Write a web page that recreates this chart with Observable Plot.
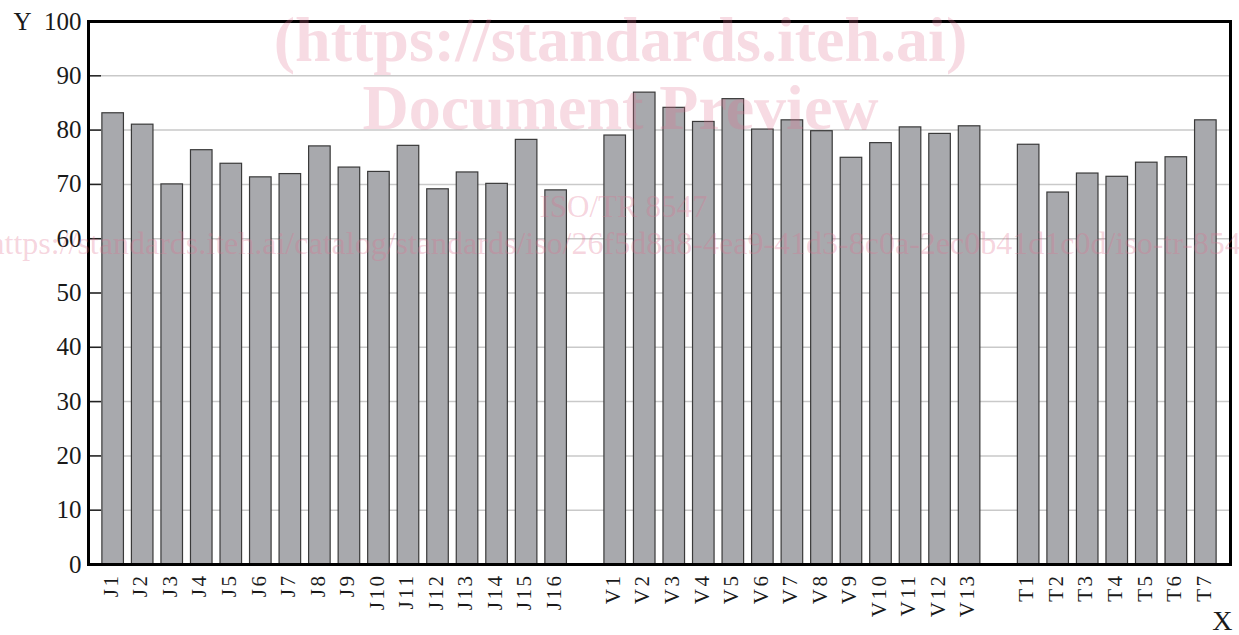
<!DOCTYPE html>
<html>
<head>
<meta charset="utf-8">
<script src="https://cdn.jsdelivr.net/npm/d3@7"></script>
<script src="https://cdn.jsdelivr.net/npm/@observablehq/plot@0.6"></script>
<style>
  html, body { margin: 0; padding: 0; background: #fff; }
  #chart svg { display: block; }
  #chart g[aria-label="x-axis tick label"] text { letter-spacing: 2.5px; }
</style>
</head>
<body>
<div id="chart"></div>
<script>
// ---- data ----
const jLabels = ["J1","J2","J3","J4","J5","J6","J7","J8","J9","J10","J11","J12","J13","J14","J15","J16"];
const jValues = [83.1, 81.0, 70.0, 76.3, 73.8, 71.3, 71.9, 77.0, 73.1, 72.3, 77.1, 69.1, 72.2, 70.1, 78.2, 68.9];
const vLabels = ["V1","V2","V3","V4","V5","V6","V7","V8","V9","V10","V11","V12","V13"];
const vValues = [79.0, 86.9, 84.1, 81.5, 85.7, 80.1, 81.8, 79.8, 74.9, 77.6, 80.5, 79.3, 80.7];
const tLabels = ["T1","T2","T3","T4","T5","T6","T7"];
const tValues = [77.3, 68.5, 72.0, 71.4, 74.0, 75.0, 81.8];
const gapKeys = ["gap1", "gap2"];
const yTicks = [0, 10, 20, 30, 40, 50, 60, 70, 80, 90, 100];
const watermark = [
  "(https://standards.iteh.ai)",
  "Document Preview",
  "ISO/TR 8547",
  "https://standards.iteh.ai/catalog/standards/iso/26f5d8a8-4ea9-41d3-8c0a-2ec0b41d1c0d/iso-tr-8547-2023"
];

// ---- build table ----
const rows = [
  ...jLabels.map((k, i) => ({key: k, value: jValues[i]})),
  ...vLabels.map((k, i) => ({key: k, value: vValues[i]})),
  ...tLabels.map((k, i) => ({key: k, value: tValues[i]}))
];
const domain = [...jLabels, gapKeys[0], ...vLabels, gapKeys[1], ...tLabels];

const W = 1239, H = 635;
const mL = 88, mR = 9, mT = 21, mB = 71;
const plotW = W - mL - mR;

const serif = "Liberation Serif, DejaVu Serif, serif";
const wmColor = "#e0708f";

const chart = Plot.plot({
  width: W,
  height: H,
  marginLeft: mL,
  marginRight: mR,
  marginTop: mT,
  marginBottom: mB,
  style: {fontFamily: serif, background: "#fff", color: "#1a1a1a"},
  x: {type: "band", domain, paddingInner: 0.27, paddingOuter: 0.47, round: false},
  y: {domain: [0, 100]},
  marks: [
    Plot.gridY(yTicks, {stroke: "#c9c9c9", strokeOpacity: 1, strokeWidth: 1.5}),
    Plot.ruleY(yTicks, {stroke: "#222", strokeWidth: 1.5, insetRight: plotW - 13}),
    Plot.barY(rows, {x: "key", y: "value", fill: "#a8a9ad", stroke: "#3a3a3a", strokeWidth: 1.2}),
    Plot.axisX({
      tickSize: 0, tickPadding: 9, tickRotate: -90, fontSize: 21, label: null,
      tickFormat: d => gapKeys.includes(d) ? "" : d, dx: -2
    }),
    Plot.axisY(yTicks, {tickSize: 0, tickPadding: 7, fontSize: 25, label: null}),
    Plot.frame({stroke: "#000", strokeWidth: 3}),
    Plot.text(["Y"], {frameAnchor: "top-left", lineAnchor: "middle", dx: -75, textAnchor: "start", fontSize: 25, fill: "#1a1a1a"}),
    Plot.text(["X"], {frameAnchor: "bottom-right", lineAnchor: "middle", dx: 2, dy: 57, textAnchor: "end", fontSize: 28, fill: "#1a1a1a"}),
    // watermark
    Plot.text([watermark[0]], {frameAnchor: "top", lineAnchor: "middle", dx: -39, dy: 19, fontSize: 64, fontWeight: "bold", fill: wmColor, fillOpacity: 0.25}),
    Plot.text([watermark[1]], {frameAnchor: "top", lineAnchor: "middle", dx: -39, dy: 87, fontSize: 64, fontWeight: "bold", fill: wmColor, fillOpacity: 0.25}),
    Plot.text([watermark[2]], {frameAnchor: "top", lineAnchor: "middle", dx: -36, dy: 186, fontSize: 31, fill: wmColor, fillOpacity: 0.3, textDecoration: "underline"}),
    Plot.text([watermark[3]], {frameAnchor: "top-left", lineAnchor: "middle", dx: -100, dy: 222, textAnchor: "start", fontSize: 32, fill: wmColor, fillOpacity: 0.3})
  ]
});
document.getElementById("chart").appendChild(chart);
</script>
</body>
</html>
